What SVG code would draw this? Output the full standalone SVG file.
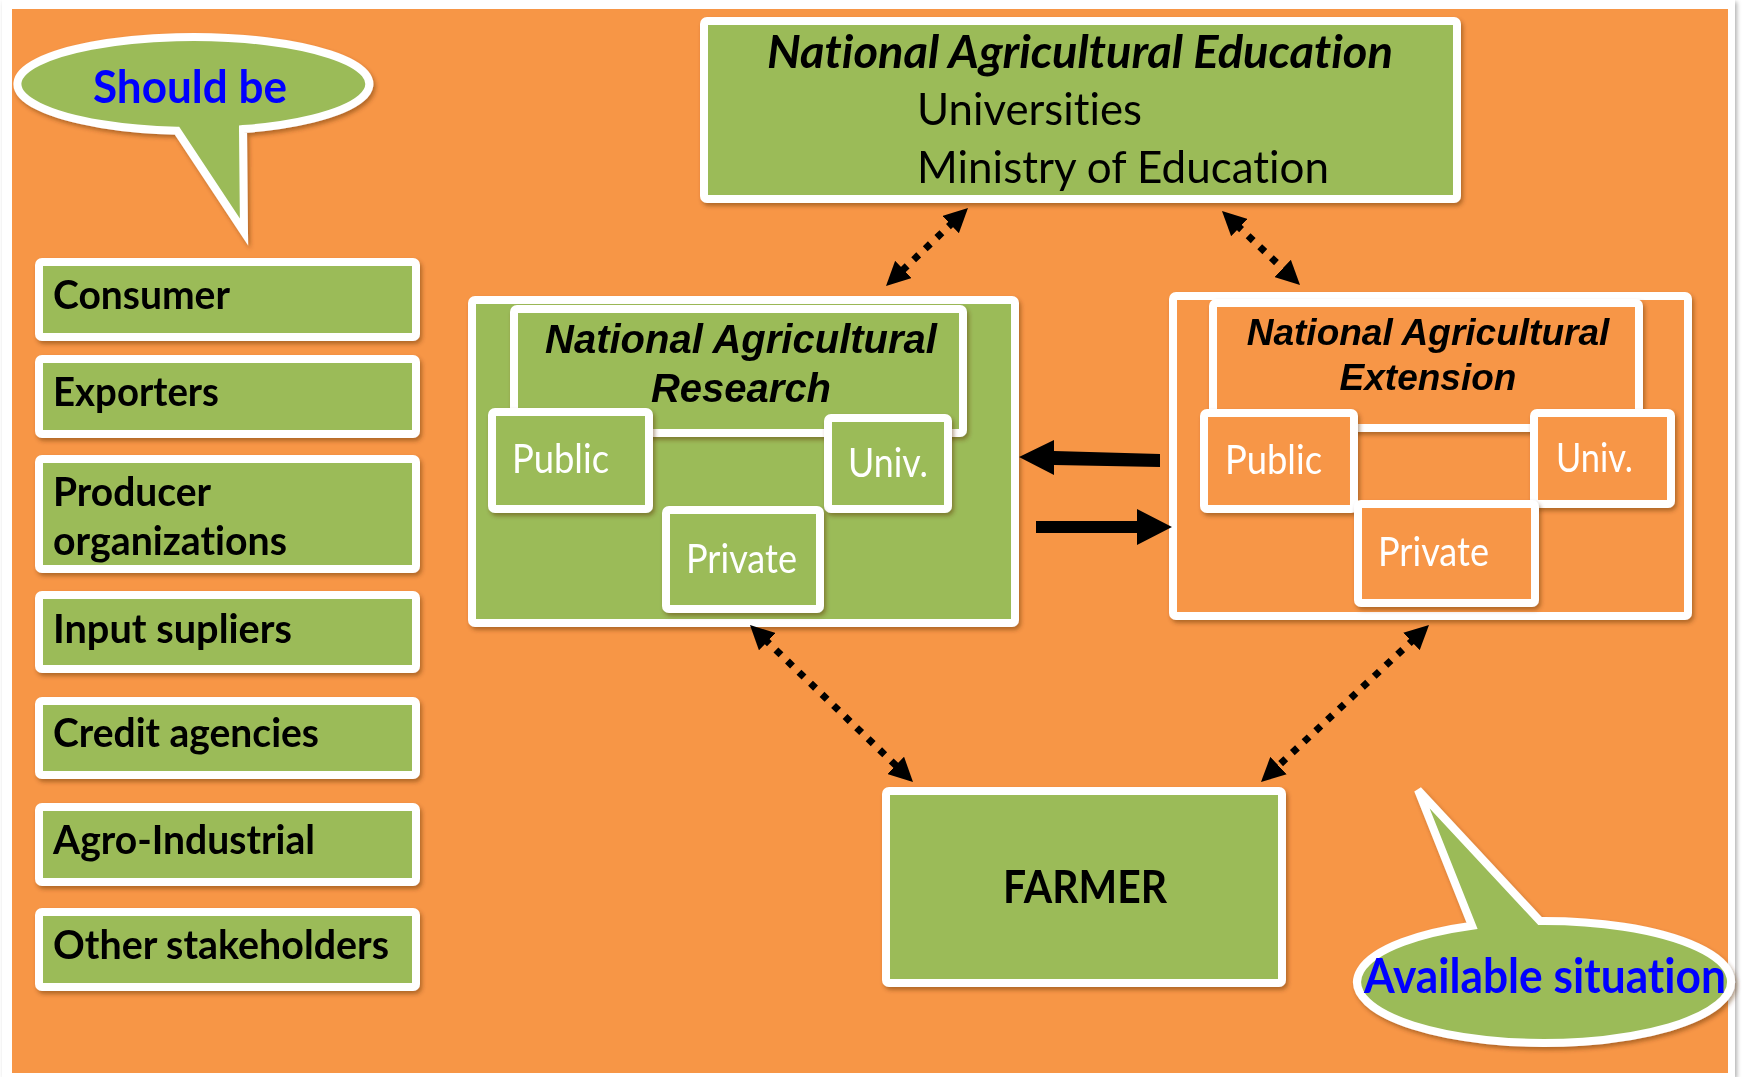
<svg xmlns="http://www.w3.org/2000/svg" width="1742" height="1077" viewBox="0 0 1742 1077">
<style>
text{font-variant-ligatures:none;font-feature-settings:"liga" 0,"dlig" 0}
.g{fill:#9BBB59;stroke:#FFFFFF;stroke-width:8}
.o{fill:#F79646;stroke:#FFFFFF;stroke-width:8}
.sh{filter:url(#ds)}
.cal{font-family:Lato,"Open Sans","DejaVu Sans",sans-serif}
.b{font-weight:bold}
.lb{font-family:Lato,"Open Sans",sans-serif;font-weight:bold;font-size:40px;fill:#000}
.w{font-family:Lato,"Open Sans",sans-serif;font-size:40px;fill:#FFFFFF}
.ar{font-family:"Liberation Sans",Arial,sans-serif;font-weight:bold;font-style:italic;fill:#000;text-anchor:middle}
.blue{font-family:Lato,"Open Sans",sans-serif;font-weight:bold;fill:#0000FF}
.dot{fill:none;stroke:#000;stroke-width:7;stroke-dasharray:7 9}
</style>
<defs>
<filter id="ds" x="-10%" y="-10%" width="120%" height="130%">
<feDropShadow dx="2" dy="3" stdDeviation="2" flood-color="#5a2a00" flood-opacity="0.45"/>
</filter>
<filter id="fs" x="-2%" y="-2%" width="104%" height="104%">
<feDropShadow dx="2" dy="2" stdDeviation="2" flood-color="#000" flood-opacity="0.3"/>
</filter>
<marker id="ah" viewBox="0 0 24 24" markerUnits="userSpaceOnUse" markerWidth="24" markerHeight="24" refX="4" refY="12" orient="auto-start-reverse">
<path d="M0,0 L24,12 L0,24 Z" fill="#000" stroke="none"/>
</marker>
</defs>
<rect x="0" y="0" width="1742" height="1077" fill="#FFFFFF"/>
<rect x="2" y="0" width="1733" height="1077" fill="#FFFFFF" filter="url(#fs)"/>
<rect x="12" y="9" width="1716" height="1064" fill="#F79646"/>

<g id="should-be" class="sh">
<path class="g" d="M177,130.8 L244,232 L243,129.1 A176,47 0 1 0 177,130.8 Z"/>
<text class="blue" x="93" y="103" font-size="46" textLength="194" lengthAdjust="spacingAndGlyphs">Should be</text>
</g>

<g id="consumer" class="sh"><rect class="g" x="39" y="262" width="377" height="75" rx="3"/><text class="lb" x="53" y="309" textLength="177" lengthAdjust="spacingAndGlyphs">Consumer</text></g>
<g id="exporters" class="sh"><rect class="g" x="39" y="359" width="377" height="75" rx="3"/><text class="lb" x="53" y="406" textLength="166" lengthAdjust="spacingAndGlyphs">Exporters</text></g>
<g id="producer-organizations" class="sh"><rect class="g" x="39" y="459" width="377" height="110" rx="3"/><text class="lb" x="53" y="506" textLength="158" lengthAdjust="spacingAndGlyphs">Producer</text><text class="lb" x="53" y="555" textLength="234" lengthAdjust="spacingAndGlyphs">organizations</text></g>
<g id="input-supliers" class="sh"><rect class="g" x="39" y="595" width="377" height="74" rx="3"/><text class="lb" x="53" y="643" textLength="239" lengthAdjust="spacingAndGlyphs">Input supliers</text></g>
<g id="credit-agencies" class="sh"><rect class="g" x="39" y="701" width="377" height="74" rx="3"/><text class="lb" x="53" y="747" textLength="266" lengthAdjust="spacingAndGlyphs">Credit agencies</text></g>
<g id="agro-industrial" class="sh"><rect class="g" x="39" y="807" width="377" height="75" rx="3"/><text class="lb" x="53" y="854" textLength="262" lengthAdjust="spacingAndGlyphs">Agro-Industrial</text></g>
<g id="other-stakeholders" class="sh"><rect class="g" x="39" y="912" width="377" height="75" rx="3"/><text class="lb" x="53" y="959" textLength="336" lengthAdjust="spacingAndGlyphs">Other stakeholders</text></g>

<g id="education" class="sh">
<rect class="g" x="704" y="21" width="753" height="178" rx="3"/>
<text class="cal b" x="767" y="68" font-size="45" font-style="italic" textLength="626" lengthAdjust="spacingAndGlyphs">National Agricultural Education</text>
<text class="cal" x="917" y="125" font-size="44" textLength="225" lengthAdjust="spacingAndGlyphs">Universities</text>
<text class="cal" x="917" y="183" font-size="44" textLength="412" lengthAdjust="spacingAndGlyphs">Ministry of Education</text>
</g>

<g id="research">
<rect class="g sh" x="472" y="300" width="543" height="323" rx="3"/>
<g id="research-title" class="sh"><rect class="g" x="514" y="309" width="449" height="124" rx="3"/>
<text class="ar" x="741" y="353" font-size="40">National Agricultural</text>
<text class="ar" x="741" y="402" font-size="40">Research</text></g>
<g id="research-public" class="sh"><rect class="g" x="492" y="412" width="157" height="97" rx="3"/><text class="w" x="512" y="473" textLength="97" lengthAdjust="spacingAndGlyphs">Public</text></g>
<g id="research-univ" class="sh"><rect class="g" x="828" y="418" width="120" height="91" rx="3"/><text class="w" x="848" y="477" textLength="80" lengthAdjust="spacingAndGlyphs">Univ.</text></g>
<g id="research-private" class="sh"><rect class="g" x="666" y="510" width="154" height="99" rx="3"/><text class="w" x="686" y="573" textLength="111" lengthAdjust="spacingAndGlyphs">Private</text></g>
</g>

<g id="extension">
<rect class="o sh" x="1173" y="296" width="515" height="320" rx="3"/>
<g id="extension-title" class="sh"><rect class="o" x="1213" y="303" width="426" height="125" rx="3"/>
<text class="ar" x="1428" y="345" font-size="37">National Agricultural</text>
<text class="ar" x="1428" y="390" font-size="37">Extension</text></g>
<g id="extension-public" class="sh"><rect class="o" x="1204" y="413" width="150" height="96" rx="3"/><text class="w" x="1225" y="474" textLength="97" lengthAdjust="spacingAndGlyphs">Public</text></g>
<g id="extension-univ" class="sh"><rect class="o" x="1534" y="413" width="137" height="91" rx="3"/><text class="w" x="1556" y="472" textLength="77" lengthAdjust="spacingAndGlyphs">Univ.</text></g>
<g id="extension-private" class="sh"><rect class="o" x="1358" y="504" width="177" height="99" rx="3"/><text class="w" x="1378" y="566" textLength="111" lengthAdjust="spacingAndGlyphs">Private</text></g>
</g>

<g id="farmer" class="sh">
<rect class="g" x="886" y="791" width="396" height="192" rx="3"/>
<text class="cal b" x="1003" y="903" font-size="46" textLength="164" lengthAdjust="spacingAndGlyphs">FARMER</text>
</g>

<g id="available-situation" class="sh">
<path class="g" d="M1472,925.7 L1418,790 L1540,921 A187,61 0 1 1 1472,925.7 Z"/>
<text class="blue" x="1364" y="993" font-size="47" textLength="362" lengthAdjust="spacingAndGlyphs">Available situation</text>
</g>

<g id="connectors">
<path class="dot" d="M953.5,221.8 L900.5,272.2" marker-start="url(#ah)" marker-end="url(#ah)"/>
<path class="dot" d="M1236.5,224.8 L1285.5,271.2" marker-start="url(#ah)" marker-end="url(#ah)"/>
<path class="dot" d="M764.4,638.9 L898.6,768.1" marker-start="url(#ah)" marker-end="url(#ah)"/>
<path class="dot" d="M1414.4,638.7 L1275.6,768.3" marker-start="url(#ah)" marker-end="url(#ah)"/>
<path d="M1019,457 L1054,440 L1054,451 L1160,454 L1160,467 L1054,465 L1054,475 Z" fill="#000"/>
<path d="M1036,521 L1137,521 L1137,509 L1172,527 L1137,545 L1137,533 L1036,533 Z" fill="#000"/>
</g>
</svg>
